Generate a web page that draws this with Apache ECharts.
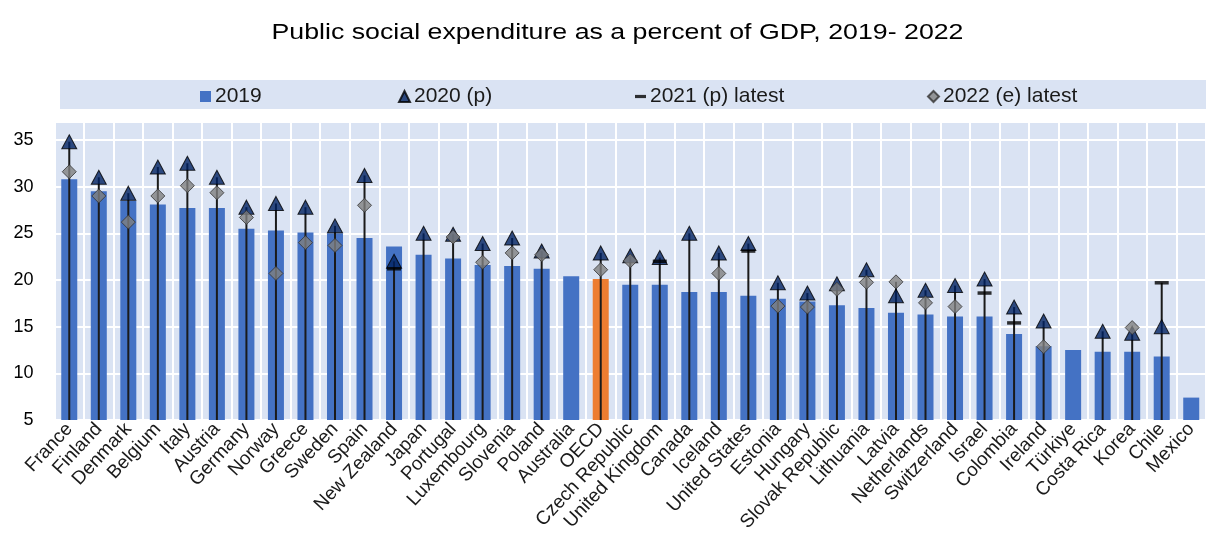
<!DOCTYPE html>
<html>
<head>
<meta charset="utf-8">
<script src="https://cdn.jsdelivr.net/npm/echarts@6/dist/echarts.min.js"></script>
<style>
html,body{margin:0;padding:0;background:#fff;}
#chart{width:1206px;height:540px;}
</style>
</head>
<body>
<div id="chart"></div>
<script>
var categories = ['France','Finland','Denmark','Belgium','Italy','Austria','Germany','Norway','Greece','Sweden','Spain','New Zealand','Japan','Portugal','Luxembourg','Slovenia','Poland','Australia','OECD','Czech Republic','United Kingdom','Canada','Iceland','United States','Estonia','Hungary','Slovak Republic','Lithuania','Latvia','Netherlands','Switzerland','Israel','Colombia','Ireland','Türkiye','Costa Rica','Korea','Chile','Mexico'];

var v2019 = [30.8,29.5,28.5,28.1,27.7,27.7,25.5,25.3,25.1,25.0,24.5,23.6,22.7,22.3,21.6,21.5,21.2,20.4,20.1,19.5,19.5,18.7,18.7,18.3,18.0,17.7,17.3,17.0,16.5,16.3,16.1,16.1,14.2,12.9,12.5,12.3,12.3,11.8,7.4];

var v2020 = [34.8,31.0,29.3,32.1,32.5,31.0,27.8,28.2,27.8,25.8,31.2,22.0,25.0,24.9,23.9,24.5,23.1,null,22.9,22.6,22.4,25.0,22.9,23.9,19.7,18.6,19.6,21.1,18.3,18.9,19.4,20.1,17.1,15.6,null,14.5,14.3,15.0,null];

var v2021 = [null,null,null,null,null,null,null,null,null,null,null,21.2,null,null,null,null,null,null,null,null,22.0,null,null,23.1,null,null,null,null,null,null,null,18.6,15.4,null,null,null,null,19.7,null];

var v2022 = [31.6,29.0,26.2,29.0,30.1,29.35,26.7,20.7,24.0,23.7,28.0,null,null,24.6,21.9,22.9,22.7,null,21.1,22.05,null,null,20.7,null,17.2,17.1,19.0,19.75,19.8,17.55,17.15,null,null,12.85,null,null,14.9,null,null];

var seriesNames = ['2019', '2020 (p)', '2021 (p) latest', '2022 (e) latest'];
var titleText = 'Public social expenditure as a percent of GDP, 2019- 2022';
var yTicks = {min: 5, max: 37, interval: 5};
var highlight = 'OECD';

var barData = v2019.map(function(v, i){
  if (categories[i] === highlight) return {value: v, itemStyle: {color: '#ED7D31'}};
  return v;
});

var stemData = [];
categories.forEach(function(c, i){
  var vals = [v2020[i], v2021[i], v2022[i]].filter(function(x){ return x !== null; });
  if (vals.length) stemData.push([i, Math.max.apply(null, vals)]);
});

function toPts(arr){ return arr.map(function(v,i){ return v === null ? [i, '-'] : [i, v]; }); }

var font = '"Liberation Sans", Arial, sans-serif';
var legendIcons = ['rect', 'triangle', 'path://M0,0L12,0L12,3.5L0,3.5Z', 'diamond'];
var legendLeft = [200, 398, 635, 927];
var legends = seriesNames.map(function(n, k){
  return {
    left: legendLeft[k], top: 86, padding: 0,
    itemWidth: 11, itemHeight: 11, itemGap: 0,
    textStyle: {fontFamily: font, fontSize: 21, color: '#1a1a1a', padding: [0, 0, 0, -1]},
    data: [{name: n, icon: legendIcons[k]}]
  };
});

var chart = echarts.init(document.getElementById('chart'), null, {renderer: 'canvas'});
chart.setOption({
  animation: false,
  backgroundColor: '#ffffff',
  graphic: [{
    type: 'rect', left: 60, top: 80, z: -1,
    shape: {width: 1146, height: 29},
    style: {fill: '#DAE3F3'}
  }, {
    type: 'text', x: 617.5, y: 33, scaleX: 1.215, z: 10,
    style: {text: titleText, font: '22px "Liberation Sans", Arial, sans-serif',
      fill: '#000', textAlign: 'center', textVerticalAlign: 'middle'}
  }],
  legend: legends,
  grid: {
    left: 54.5, right: -14.6, top: 121.3, bottom: 120,
    show: true, backgroundColor: '#DAE3F3', borderWidth: 0
  },
  xAxis: {
    type: 'category', data: categories,
    axisLine: {show: false}, axisTick: {show: false},
    splitLine: {show: true, interval: 0, lineStyle: {color: '#ffffff', width: 2}},
    axisLabel: {interval: 0, rotate: 47, margin: 6, fontFamily: font, fontSize: 19, color: '#1a1a1a'}
  },
  yAxis: {
    type: 'value', min: yTicks.min, max: yTicks.max, interval: yTicks.interval,
    axisLine: {show: false}, axisTick: {show: false},
    splitLine: {show: true, lineStyle: {color: '#ffffff', width: 2}},
    axisLabel: {margin: 21, fontFamily: font, fontSize: 18, color: '#000',
      showMaxLabel: false}
  },
  series: [
    {
      name: seriesNames[0], type: 'bar', data: barData, barWidth: 16,
      itemStyle: {color: '#4472C4'}, z: 2
    },
    {
      name: 'stems', type: 'custom', data: stemData, z: 3, silent: true,
      renderItem: function(params, api){
        var i = api.value(0), top = api.value(1);
        var p0 = api.coord([i, yTicks.min]);
        var p1 = api.coord([i, top]);
        return {type: 'line', shape: {x1: p0[0], y1: p0[1], x2: p1[0], y2: p1[1]},
          style: {stroke: '#1a1a1a', lineWidth: 2}};
      }
    },
    {
      name: seriesNames[1], type: 'scatter', data: toPts(v2020), symbol: 'triangle', symbolSize: [15, 14],
      itemStyle: {color: '#002060', borderColor: '#000', borderWidth: 1}, z: 4
    },
    {
      name: seriesNames[2], type: 'scatter', data: toPts(v2021), symbol: 'rect', symbolSize: [14, 3.5],
      itemStyle: {color: '#000'}, z: 5
    },
    {
      name: seriesNames[3], type: 'scatter', data: toPts(v2022), symbol: 'diamond', symbolSize: [14, 14],
      itemStyle: {color: '#808080', borderColor: '#333', borderWidth: 1}, z: 6
    }
  ]
});
</script>
</body>
</html>
